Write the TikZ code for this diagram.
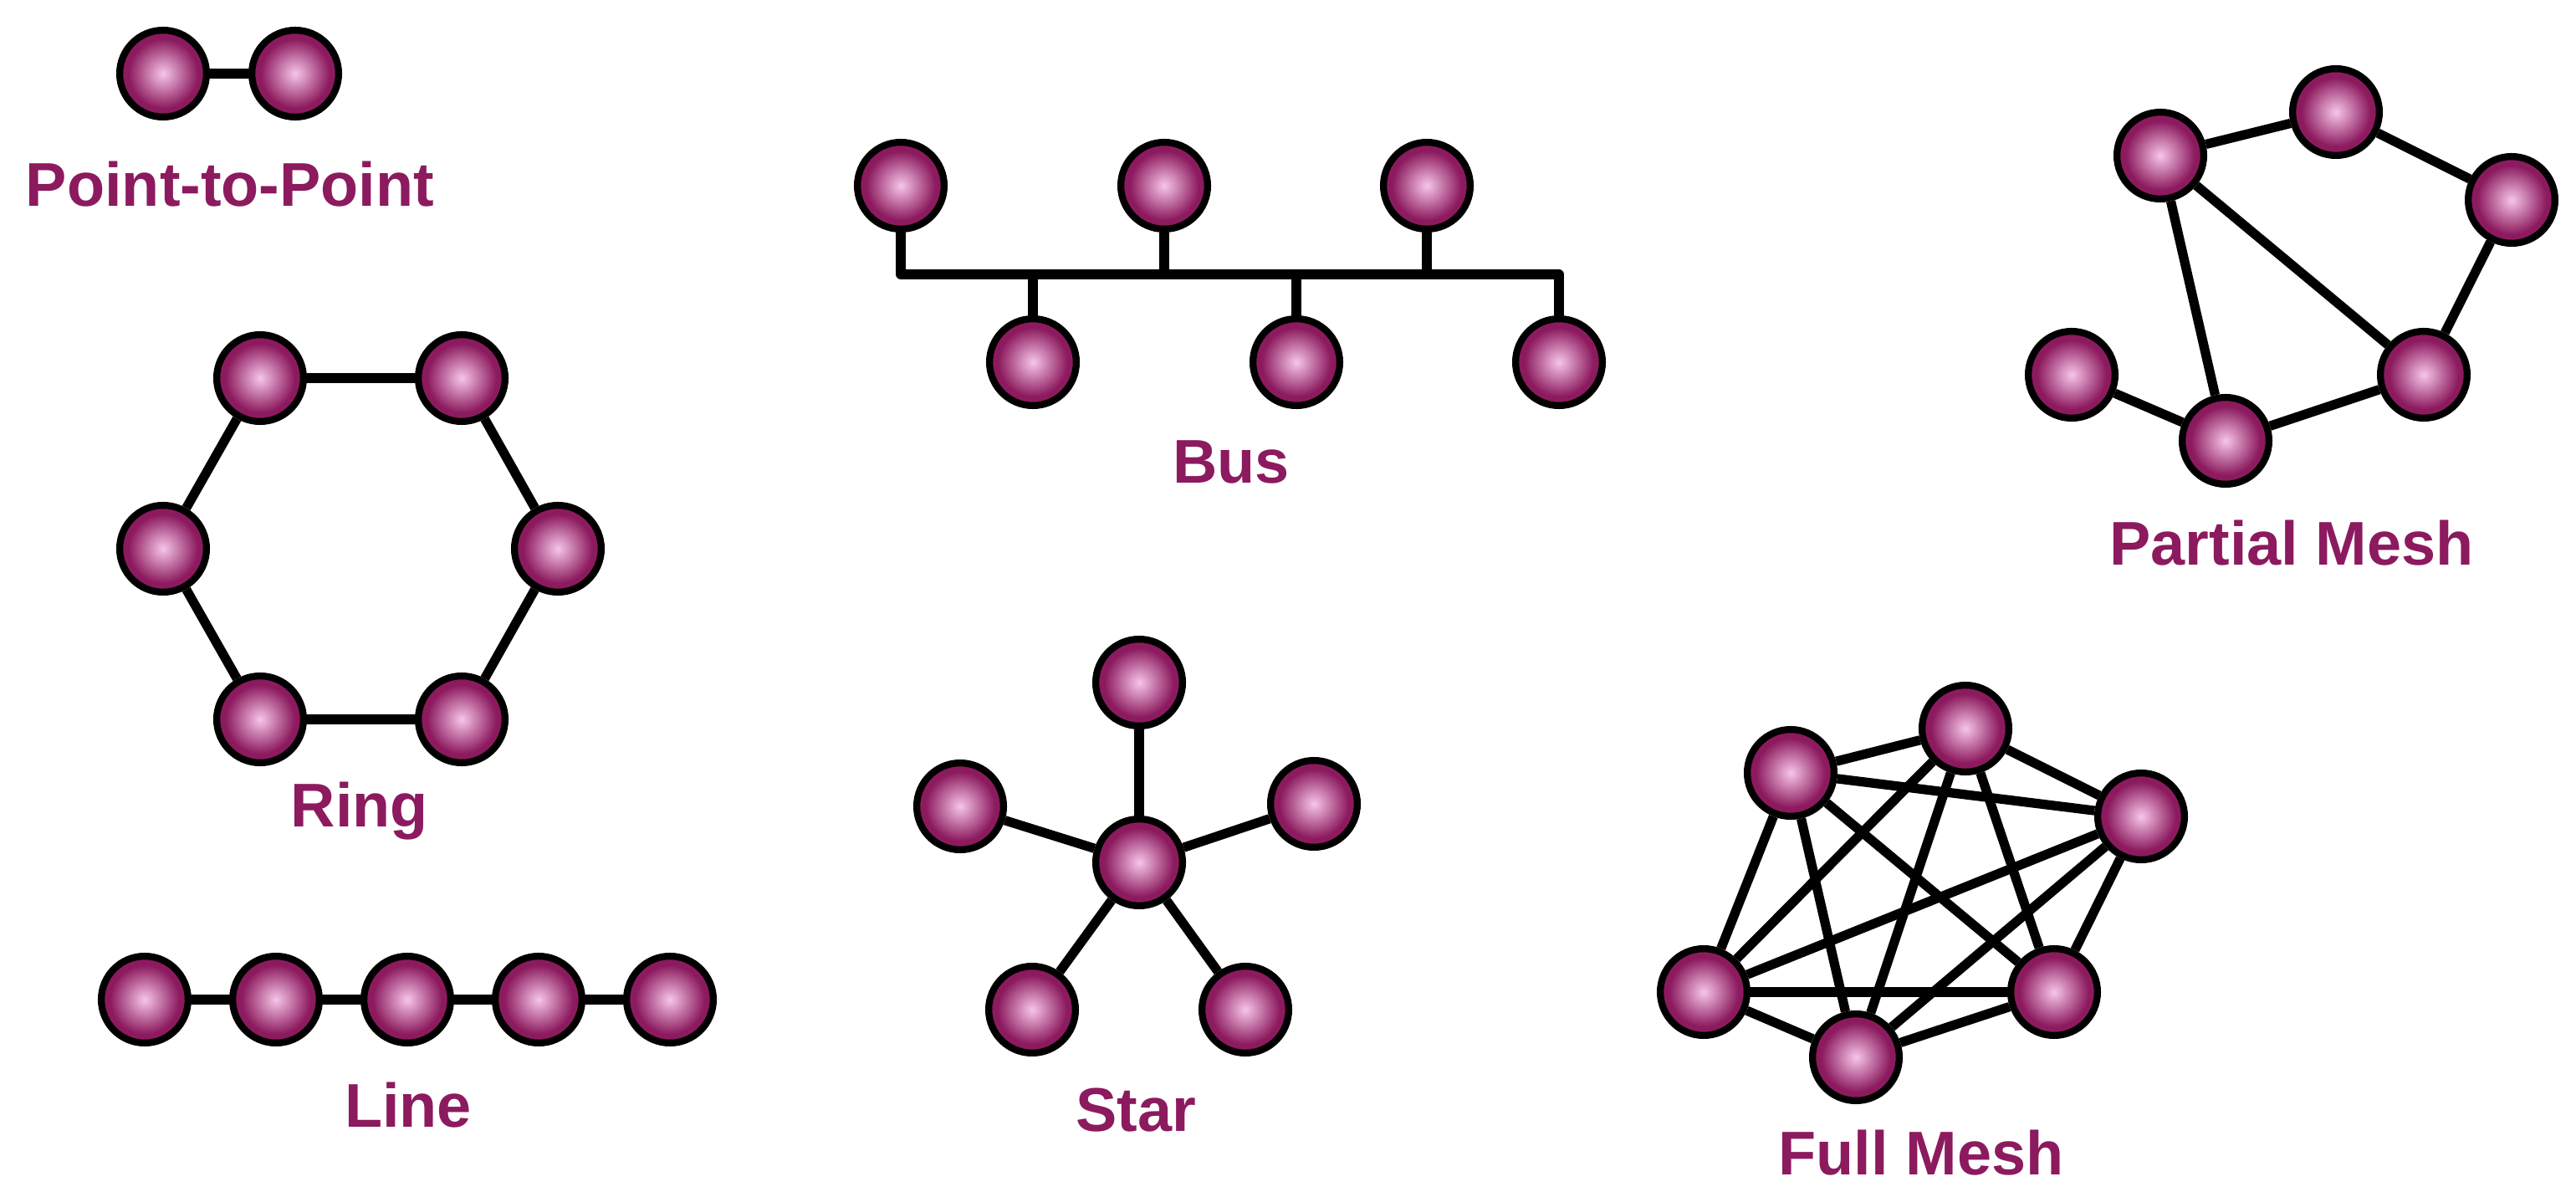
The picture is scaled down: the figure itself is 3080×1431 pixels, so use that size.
\documentclass[tikz,border=0pt]{standalone}
\usepackage{fontspec}
\setmainfont{Liberation Sans}
\usepackage{tikz}
\definecolor{topo}{RGB}{140,26,94}
\definecolor{topohi}{RGB}{246,198,232}
\pgfdeclareradialshading{topoball}{\pgfpoint{0bp}{0bp}}{color(0bp)=(topohi); color(20bp)=(topo); color(25bp)=(topo); color(50bp)=(topo)}

\begin{document}
\begin{tikzpicture}[x=0.01cm,y=-0.01cm]
		\tikzstyle{host}=[circle,draw=black,line width=2.36pt,shading=topoball,inner sep=0pt,minimum size=1.037cm]
		\tikzstyle{link}=[line width=3.2pt,line join=round]
		\tikzstyle{caption}=[anchor=base,text=topo,font=\fontsize{21}{25}\selectfont\bfseries]
		\useasboundingbox (0,0) rectangle (3080,1431);
		% point-to-point
		\node [host] at (195,88) (p1) {};
		\node [host] at (353,88) (p2) {};
		\draw [link] (p1) -- (p2);
		\node [caption] at (275,247) (pcap) {Point-to-Point};
		% bus
		\node [host] at (1077,222) (b1) {};
		\node [host] at (1392,222) (b2) {};
		\node [host] at (1706,222) (b3) {};
		\node [host] at (1235,433) (b4) {};
		\node [host] at (1550,433) (b5) {};
		\node [host] at (1864,433) (b6) {};
		\coordinate (busend) at (1864,328);
		\draw [link] (b1) |- (busend) -- (b6);
		\draw [link] (b2) -- (b2 |- busend);
		\draw [link] (b3) -- (b3 |- busend);
		\draw [link] (b4) -- (b4 |- busend);
		\draw [link] (b5) -- (b5 |- busend);
		\node [caption] at (1472,578) (bcap) {Bus};
		% partial mesh
		\node [host] at (2583,186) (m1) {};
		\node [host] at (2793,134) (m2) {};
		\node [host] at (3003,239) (m3) {};
		\node [host] at (2898,448) (m4) {};
		\node [host] at (2661,527) (m5) {};
		\node [host] at (2477,448) (m6) {};
		\draw [link] (m1) -- (m2);
		\draw [link] (m2) -- (m3);
		\draw [link] (m3) -- (m4);
		\draw [link] (m1) -- (m4);
		\draw [link] (m1) -- (m5);
		\draw [link] (m5) -- (m4);
		\draw [link] (m6) -- (m5);
		\node [caption] at (2740,676) (mcap) {Partial Mesh};
		% ring
		\node [host] at (311,452) (r1) {};
		\node [host] at (552,452) (r2) {};
		\node [host] at (667,656) (r3) {};
		\node [host] at (552,860) (r4) {};
		\node [host] at (311,860) (r5) {};
		\node [host] at (195,656) (r6) {};
		\draw [link] (r1) -- (r2);
		\draw [link] (r2) -- (r3);
		\draw [link] (r3) -- (r4);
		\draw [link] (r4) -- (r5);
		\draw [link] (r5) -- (r6);
		\draw [link] (r6) -- (r1);
		\node [caption] at (430,989) (rcap) {Ring};
		% line
		\node [host] at (173,1195) (l1) {};
		\node [host] at (330,1195) (l2) {};
		\node [host] at (487,1195) (l3) {};
		\node [host] at (644,1195) (l4) {};
		\node [host] at (801,1195) (l5) {};
		\draw [link] (l1) -- (l2);
		\draw [link] (l2) -- (l3);
		\draw [link] (l3) -- (l4);
		\draw [link] (l4) -- (l5);
		\node [caption] at (488,1347) (lcap) {Line};
		% star
		\node [host] at (1362,1031) (s0) {};
		\node [host] at (1362,816) (s1) {};
		\node [host] at (1148,964) (s2) {};
		\node [host] at (1571,961) (s3) {};
		\node [host] at (1234,1207) (s4) {};
		\node [host] at (1489,1207) (s5) {};
		\draw [link] (s0) -- (s1);
		\draw [link] (s0) -- (s2);
		\draw [link] (s0) -- (s3);
		\draw [link] (s0) -- (s4);
		\draw [link] (s0) -- (s5);
		\node [caption] at (1358,1353) (scap) {Star};
		% full mesh
		\node [host] at (2141,924) (f1) {};
		\node [host] at (2350,871) (f2) {};
		\node [host] at (2560,976) (f3) {};
		\node [host] at (2456,1186) (f4) {};
		\node [host] at (2219,1264) (f5) {};
		\node [host] at (2037,1186) (f6) {};
		\draw [link] (f1) -- (f2);
		\draw [link] (f1) -- (f3);
		\draw [link] (f1) -- (f4);
		\draw [link] (f1) -- (f5);
		\draw [link] (f1) -- (f6);
		\draw [link] (f2) -- (f3);
		\draw [link] (f2) -- (f4);
		\draw [link] (f2) -- (f5);
		\draw [link] (f2) -- (f6);
		\draw [link] (f3) -- (f4);
		\draw [link] (f3) -- (f5);
		\draw [link] (f3) -- (f6);
		\draw [link] (f4) -- (f5);
		\draw [link] (f4) -- (f6);
		\draw [link] (f5) -- (f6);
		\node [caption] at (2297,1405) (fcap) {Full Mesh};
	\end{tikzpicture}
\end{document}
